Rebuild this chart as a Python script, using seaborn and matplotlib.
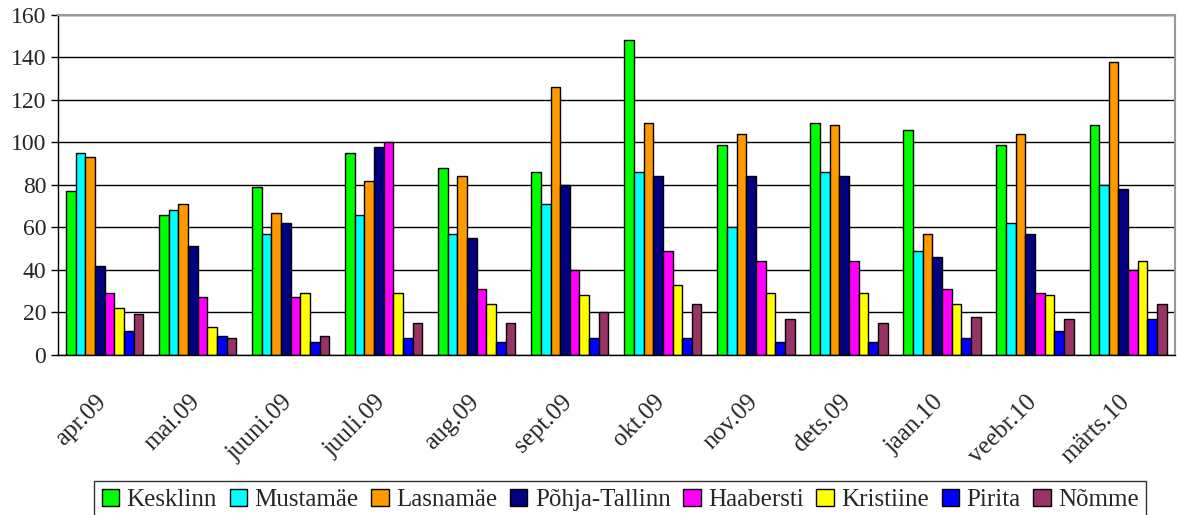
import matplotlib
matplotlib.use("Agg")
import matplotlib.pyplot as plt
import matplotlib.transforms as mtransforms
import seaborn as sns
import pandas as pd
import numpy as np

months = ["apr.09", "mai.09", "juuni.09", "juuli.09", "aug.09", "sept.09",
          "okt.09", "nov.09", "dets.09", "jaan.10", "veebr.10", "märts.10"]
districts = ["Kesklinn", "Mustamäe", "Lasnamäe", "Põhja-Tallinn",
             "Haabersti", "Kristiine", "Pirita", "Nõmme"]

kesklinn = [77, 66, 79, 95, 88, 86, 148, 99, 109, 106, 99, 108]
mustamae = [95, 68, 57, 66, 57, 71, 86, 60, 86, 49, 62, 80]
lasnamae = [93, 71, 67, 82, 84, 126, 109, 104, 108, 57, 104, 138]
pohja = [42, 51, 62, 98, 55, 80, 84, 84, 84, 46, 57, 78]
haabersti = [29, 27, 27, 100, 31, 40, 49, 44, 44, 31, 29, 40]
kristiine = [22, 13, 29, 29, 24, 28, 33, 29, 29, 24, 28, 44]
pirita = [11, 9, 6, 8, 6, 8, 8, 6, 6, 8, 11, 17]
nomme = [19, 8, 9, 15, 15, 20, 24, 17, 15, 18, 17, 24]

colors = ["#00FF00", "#00FFFF", "#FF9900", "#000080",
          "#FF00FF", "#FFFF00", "#0000FF", "#993366"]

series = [kesklinn, mustamae, lasnamae, pohja, haabersti, kristiine, pirita, nomme]
rows = []
for d, vals in zip(districts, series):
    for m, v in zip(months, vals):
        rows.append({"month": m, "district": d, "value": v})
df = pd.DataFrame(rows)

sns.set_style("white")
plt.rcParams["font.family"] = ["Liberation Serif", "DejaVu Serif"]

fig = plt.figure(figsize=(11.77, 5.15), dpi=100)
ax = fig.add_axes([0.0493, 0.311, 0.9487, 0.66])

sns.barplot(data=df, x="month", y="value", hue="district", order=months,
            hue_order=districts, palette=colors, width=0.83,
            edgecolor="black", linewidth=1, saturation=1, ax=ax)

ax.set_ylim(0, 160)
ax.set_yticks(range(0, 161, 20))
ax.set_xlim(-0.5, len(months) - 0.5)
ax.yaxis.grid(True, color="black", linewidth=1)
ax.set_axisbelow(True)
ax.set_xlabel("")
ax.set_ylabel("")

for s in ["top", "right"]:
    ax.spines[s].set_color("#999999")
    ax.spines[s].set_linewidth(1.5)
for s in ["left", "bottom"]:
    ax.spines[s].set_color("black")
    ax.spines[s].set_linewidth(1)

ax.set_xticks(range(len(months)))
ax.set_xticklabels(months, rotation=45, ha="right", rotation_mode="anchor", fontsize=18)
ax.tick_params(axis="x", length=0, pad=26)
offset = mtransforms.ScaledTranslation(-9 / 100, 0, fig.dpi_scale_trans)
for lab in ax.get_xticklabels():
    lab.set_transform(lab.get_transform() + offset)
ax.set_xticks(np.arange(-0.5, len(months), 1), minor=True)
ax.tick_params(axis="x", which="minor", length=5, color="black", width=1)
ax.tick_params(axis="y", length=5, color="black", width=1, labelsize=17, left=True)

ax.get_legend().remove()
handles = [plt.Rectangle((0, 0), 1, 1, facecolor=c, edgecolor="black", linewidth=1) for c in colors]
leg = fig.legend(handles, districts, loc="upper center", bbox_to_anchor=(0.527, 0.066),
                 ncol=8, frameon=True, fancybox=False, fontsize=18, borderaxespad=0,
                 handlelength=0.7, handleheight=0.7, handletextpad=0.3,
                 columnspacing=0.5, borderpad=0.3, edgecolor="black")
leg.get_frame().set_linewidth(1)

fig.savefig("out.png", dpi=100)
